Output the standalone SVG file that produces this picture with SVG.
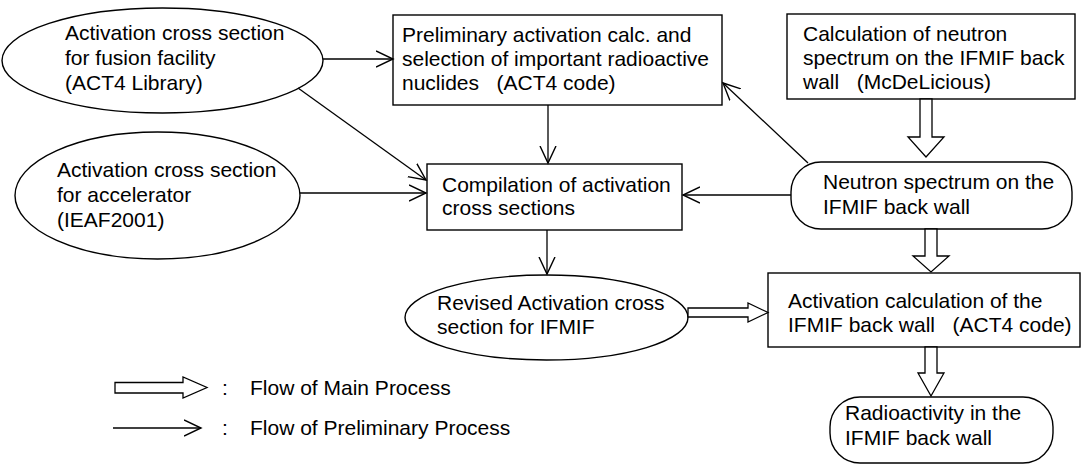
<svg xmlns="http://www.w3.org/2000/svg" width="1083" height="465" viewBox="0 0 1083 465">
  <style>
    .shape { fill: #fff; stroke: #000; stroke-width: 1.4; }
    .lbl { font-family: "Liberation Sans", Arial, sans-serif; font-size: 21px; fill: #000; }
    .wire { fill: none; stroke: #000; stroke-width: 1.3; }
    .fat { fill: #fff; stroke: #000; stroke-width: 1.3; stroke-linejoin: miter; }
  </style>
  <defs>
    <marker id="vee" markerUnits="userSpaceOnUse" markerWidth="20" markerHeight="20" refX="17" refY="9" orient="auto">
      <path d="M0,1 L17,9 L0,17" fill="none" stroke="#000" stroke-width="1.4"/>
    </marker>
  </defs>

  <rect width="1083" height="465" fill="#fff"/>

  <!-- data sources -->
  <g id="fusion-library">
    <ellipse class="shape" cx="162.5" cy="60.5" rx="160.5" ry="52.5"/>
    <text class="lbl" x="65" y="40">Activation cross section</text>
    <text class="lbl" x="65" y="65">for fusion facility</text>
    <text class="lbl" x="65" y="90">(ACT4 Library)</text>
  </g>

  <g id="accelerator-library">
    <ellipse class="shape" cx="157.5" cy="195.5" rx="142.5" ry="63.5"/>
    <text class="lbl" x="57" y="177">Activation cross section</text>
    <text class="lbl" x="57" y="202">for accelerator</text>
    <text class="lbl" x="57" y="227">(IEAF2001)</text>
  </g>

  <g id="preliminary-calc">
    <rect class="shape" x="393" y="15" width="329" height="90"/>
    <text class="lbl" x="402" y="42">Preliminary activation calc. and</text>
    <text class="lbl" x="402" y="66">selection of important radioactive</text>
    <text class="lbl" x="402" y="90" xml:space="preserve">nuclides   (ACT4 code)</text>
  </g>

  <g id="spectrum-calc">
    <rect class="shape" x="787" y="14" width="288" height="85"/>
    <text class="lbl" x="803" y="41">Calculation of neutron</text>
    <text class="lbl" x="803" y="65">spectrum on the IFMIF back</text>
    <text class="lbl" x="803" y="89" xml:space="preserve">wall   (McDeLicious)</text>
  </g>

  <g id="compilation">
    <rect class="shape" x="427" y="164" width="255" height="66"/>
    <text class="lbl" x="442" y="192">Compilation of activation</text>
    <text class="lbl" x="442" y="215">cross sections</text>
  </g>

  <g id="neutron-spectrum">
    <rect class="shape" x="791" y="162" width="281" height="67" rx="30" ry="30"/>
    <text class="lbl" x="823" y="189">Neutron spectrum on the</text>
    <text class="lbl" x="823" y="214">IFMIF back wall</text>
  </g>

  <g id="revised-library">
    <ellipse class="shape" cx="546.5" cy="317.5" rx="141.5" ry="42.5"/>
    <text class="lbl" x="437" y="310">Revised Activation cross</text>
    <text class="lbl" x="437" y="334">section for IFMIF</text>
  </g>

  <g id="activation-calc">
    <rect class="shape" x="768" y="273" width="312" height="74"/>
    <text class="lbl" x="788" y="308">Activation calculation of the</text>
    <text class="lbl" x="788" y="332" xml:space="preserve">IFMIF back wall   (ACT4 code)</text>
  </g>

  <g id="radioactivity">
    <rect class="shape" x="830" y="397" width="223" height="66" rx="30" ry="30"/>
    <text class="lbl" x="845" y="420">Radioactivity in the</text>
    <text class="lbl" x="845" y="445">IFMIF back wall</text>
  </g>

  <!-- connectors: thin = preliminary flow, hollow = main flow -->
  <g id="connectors">
    <line class="wire" x1="323" y1="59" x2="393" y2="59" marker-end="url(#vee)"/>
    <line class="wire" x1="298" y1="88" x2="426" y2="180" marker-end="url(#vee)"/>
    <line class="wire" x1="300" y1="193" x2="426" y2="193" marker-end="url(#vee)"/>
    <line class="wire" x1="548" y1="105" x2="548" y2="163" marker-end="url(#vee)"/>
    <line class="wire" x1="791" y1="195" x2="683" y2="195" marker-end="url(#vee)"/>
    <line class="wire" x1="808" y1="163" x2="723" y2="83" marker-end="url(#vee)"/>
    <line class="wire" x1="547" y1="230" x2="547" y2="274" marker-end="url(#vee)"/>

    <polygon class="fat" points="920,99 932,99 932,137 944,137 926,157 908,137 920,137"/>
    <polygon class="fat" points="925,229 937,229 937,256 949,256 931,272 913,256 925,256"/>
    <polygon class="fat" points="925,347 937,347 937,373 944,373 931,396 918,373 925,373"/>
    <polygon class="fat" points="688,308 748,308 748,303 768,312.5 748,322 748,317 688,317"/>
  </g>

  <!-- legend -->
  <g id="legend">
    <polygon class="fat" points="115,382.5 183,382.5 183,377 207,387.5 183,398 183,393 115,393"/>
    <text class="lbl" x="222" y="395">:</text>
    <text class="lbl" x="250" y="395">Flow of Main Process</text>
    <line class="wire" x1="113" y1="428" x2="201" y2="428" marker-end="url(#vee)"/>
    <text class="lbl" x="222" y="435">:</text>
    <text class="lbl" x="250" y="435">Flow of Preliminary Process</text>
  </g>
</svg>
